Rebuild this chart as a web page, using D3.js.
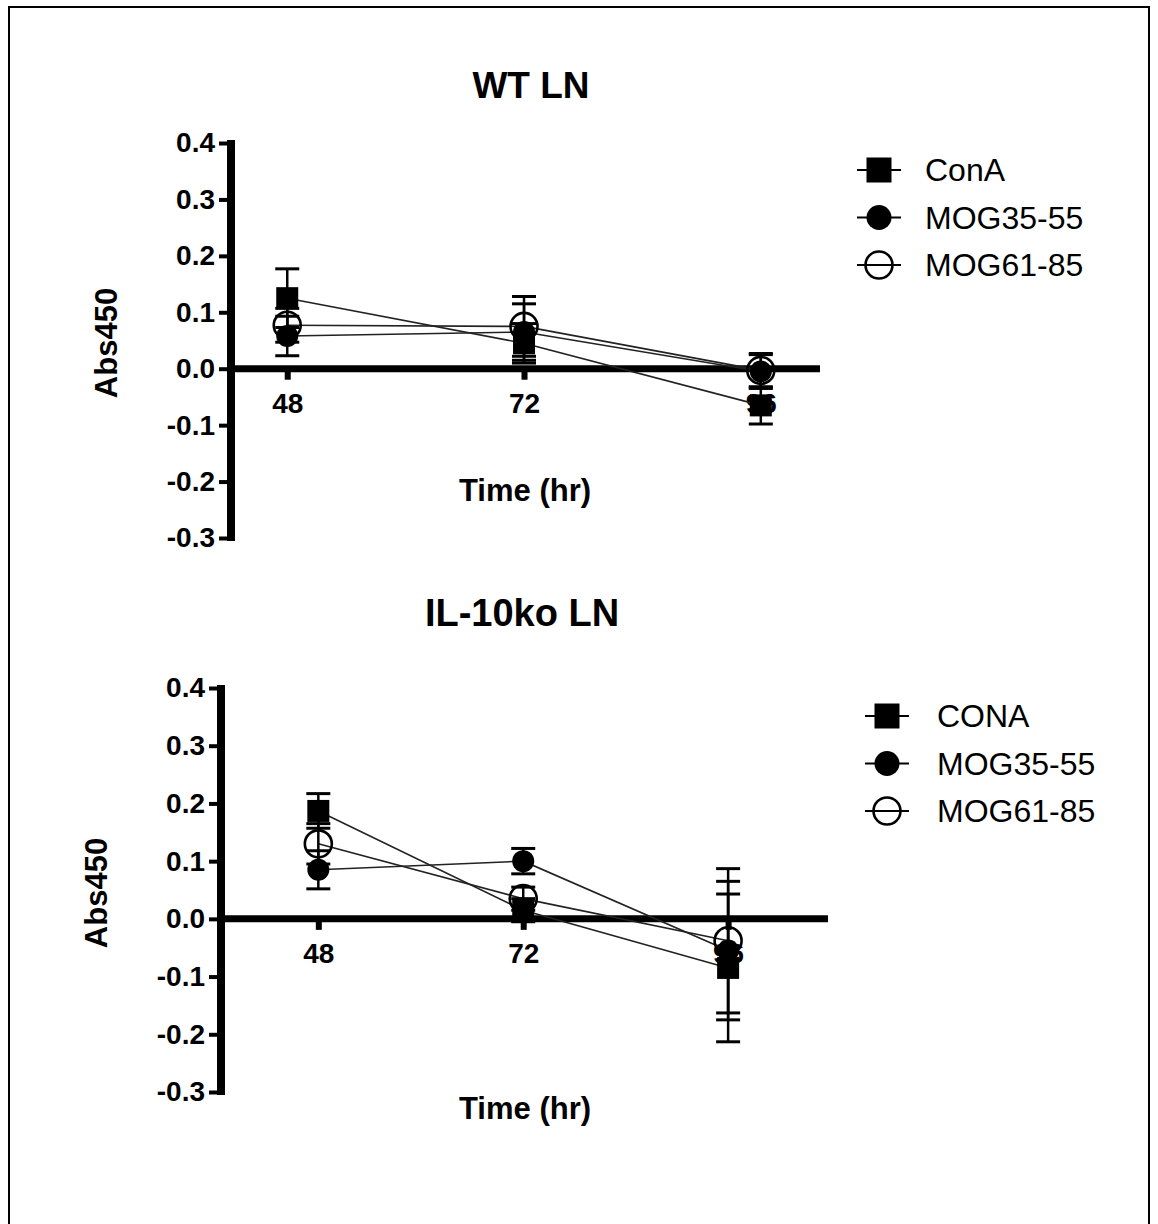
<!DOCTYPE html>
<html>
<head>
<meta charset="utf-8">
<script src="https://cdn.jsdelivr.net/npm/d3@7"></script>
<style>
  html, body { margin: 0; padding: 0; background: #fff; }
  svg { display: block; }
  text { font-family: "Liberation Sans", Arial, sans-serif; fill: #000; }
</style>
</head>
<body>
<svg id="chart" width="1158" height="1224"></svg>
<script>
// ---------- data ----------
const times = [48, 72, 96];
const yTicks = [-0.3, -0.2, -0.1, 0.0, 0.1, 0.2, 0.3, 0.4];
const seriesNamesWT = ["ConA", "MOG35-55", "MOG61-85"];
const seriesNamesKO = ["CONA", "MOG35-55", "MOG61-85"];
const symbols = ["square", "filled", "open"];

// WT LN
const wtConA   = [0.125, 0.045, -0.065];
const wtConAErr = [0.052, 0.035, 0.033];
const wtMog35  = [0.058, 0.065, -0.005];
const wtMog35Err = [0.035, 0.050, 0.030];
const wtMog61  = [0.077, 0.075, -0.003];
const wtMog61Err = [0.030, 0.053, 0.030];

// IL-10ko LN
const koConA   = [0.187, 0.015, -0.085];
const koConAErr = [0.030, 0.020, 0.128];
const koMog35  = [0.085, 0.100, -0.055];
const koMog35Err = [0.033, 0.022, 0.120];
const koMog61  = [0.130, 0.035, -0.038];
const koMog61Err = [0.035, 0.020, 0.125];

// ---------- drawing ----------
const svg = d3.select("#chart");

// outer frame
svg.append("rect").attr("x", 9).attr("y", 7).attr("width", 1140).attr("height", 1240)
  .attr("fill", "none").attr("stroke", "#000").attr("stroke-width", 2);

function panel(cfg) {
  const g = svg.append("g");
  const x = d3.scaleLinear().domain(cfg.xDomain).range(cfg.xRange);
  const y = d3.scaleLinear().domain([-0.3, 0.4]).range(cfg.yRange);

  // title
  g.append("text").attr("x", cfg.titleX).attr("y", cfg.titleY)
    .attr("text-anchor", "middle").attr("font-weight", "bold").attr("font-size", cfg.titleSize)
    .text(cfg.title);

  // y axis
  const yAxis = d3.axisLeft(y).tickValues(yTicks).tickSize(12).tickSizeOuter(0)
    .tickPadding(4).tickFormat(d => d.toFixed(1));
  const ya = g.append("g").attr("transform", `translate(${cfg.xRange[0]},0)`).call(yAxis);
  ya.select(".domain").attr("stroke", "#000").attr("stroke-width", 8)
    .attr("d", `M0,${cfg.yRange[0] + 3}V${cfg.yRange[1] - 3}`);
  ya.selectAll(".tick line").attr("stroke", "#000").attr("stroke-width", 4);
  ya.selectAll(".tick text").attr("font-size", 28).attr("font-weight", "bold")
    .attr("font-family", "Liberation Sans, Arial, sans-serif").attr("fill", "#000");

  // x axis at y=0
  const xAxis = d3.axisBottom(x).tickValues(times).tickSize(11).tickSizeOuter(0)
    .tickPadding(13).tickFormat(d3.format("d"));
  const xa = g.append("g").attr("transform", `translate(0,${y(0)})`).call(xAxis);
  xa.select(".domain").attr("stroke", "#000").attr("stroke-width", 7)
    .attr("d", `M${cfg.xRange[0]},0H${cfg.xRange[1]}`);
  xa.selectAll(".tick line").attr("stroke", "#000").attr("stroke-width", 6);
  xa.selectAll(".tick text").attr("font-size", 28).attr("font-weight", "bold")
    .attr("font-family", "Liberation Sans, Arial, sans-serif").attr("fill", "#000");

  // axis labels
  g.append("text").attr("transform", `translate(${cfg.yLabelX},${cfg.yLabelY}) rotate(-90)`)
    .attr("text-anchor", "middle").attr("font-weight", "bold").attr("font-size", 31)
    .text("Abs450");
  g.append("text").attr("x", cfg.xLabelX).attr("y", cfg.xLabelY)
    .attr("text-anchor", "middle").attr("font-weight", "bold").attr("font-size", 31)
    .text("Time (hr)");

  const line = d3.line().x((d, i) => x(times[i])).y(d => y(d));

  // lines
  cfg.series.forEach(s => {
    g.append("path").datum(s.values).attr("d", line)
      .attr("fill", "none").attr("stroke", "#222").attr("stroke-width", 1.6);
  });

  // error bars
  cfg.series.forEach(s => {
    s.values.forEach((v, i) => {
      const cx = x(times[i]);
      const top = y(v + s.err[i]), bot = y(v - s.err[i]);
      g.append("line").attr("x1", cx).attr("x2", cx).attr("y1", top).attr("y2", bot)
        .attr("stroke", "#000").attr("stroke-width", 2.5);
      [top, bot].forEach(yy => {
        g.append("line").attr("x1", cx - 12).attr("x2", cx + 12).attr("y1", yy).attr("y2", yy)
          .attr("stroke", "#000").attr("stroke-width", 3);
      });
    });
  });

  // markers
  function marker(sel, type, cx, cy, size) {
    if (type === "square") {
      sel.append("rect").attr("x", cx - size / 2).attr("y", cy - size / 2)
        .attr("width", size).attr("height", size).attr("fill", "#000");
    } else if (type === "filled") {
      sel.append("circle").attr("cx", cx).attr("cy", cy).attr("r", size / 2)
        .attr("fill", "#000");
    } else {
      sel.append("circle").attr("cx", cx).attr("cy", cy).attr("r", size / 2 + 1)
        .attr("fill", "none").attr("stroke", "#000").attr("stroke-width", 2.6);
    }
  }
  cfg.series.forEach(s => {
    s.values.forEach((v, i) => {
      marker(g, s.symbol, x(times[i]), y(v), s.symbol === "open" ? 25 : 22);
    });
  });

  // legend
  cfg.series.forEach((s, i) => {
    const ly = cfg.legendY + i * cfg.legendStep;
    const lx = cfg.legendX;
    g.append("line").attr("x1", lx - 22).attr("x2", lx + 22).attr("y1", ly).attr("y2", ly)
      .attr("stroke", "#000").attr("stroke-width", 2);
    marker(g, s.symbol, lx, ly, s.symbol === "open" ? 25 : 25);
    g.append("text").attr("x", cfg.legendTextX).attr("y", ly + 11)
      .attr("font-size", 32).text(s.name);
  });
}

panel({
  title: "WT LN", titleX: 531, titleY: 98, titleSize: 37,
  xDomain: [42.3, 102], xRange: [231, 820],
  yRange: [538, 143],
  yLabelX: 117, yLabelY: 343,
  xLabelX: 525, xLabelY: 501,
  legendX: 879, legendY: 170, legendStep: 47.5, legendTextX: 925,
  series: [
    { name: seriesNamesWT[0], symbol: symbols[0], values: wtConA, err: wtConAErr },
    { name: seriesNamesWT[1], symbol: symbols[1], values: wtMog35, err: wtMog35Err },
    { name: seriesNamesWT[2], symbol: symbols[2], values: wtMog61, err: wtMog61Err }
  ]
});

panel({
  title: "IL-10ko LN", titleX: 522, titleY: 626, titleSize: 38,
  xDomain: [36.6, 107.7], xRange: [221, 828],
  yRange: [1092, 688],
  yLabelX: 107, yLabelY: 893,
  xLabelX: 525, xLabelY: 1119,
  legendX: 887, legendY: 716, legendStep: 47.5, legendTextX: 937,
  series: [
    { name: seriesNamesKO[0], symbol: symbols[0], values: koConA, err: koConAErr },
    { name: seriesNamesKO[1], symbol: symbols[1], values: koMog35, err: koMog35Err },
    { name: seriesNamesKO[2], symbol: symbols[2], values: koMog61, err: koMog61Err }
  ]
});
</script>
</body>
</html>
